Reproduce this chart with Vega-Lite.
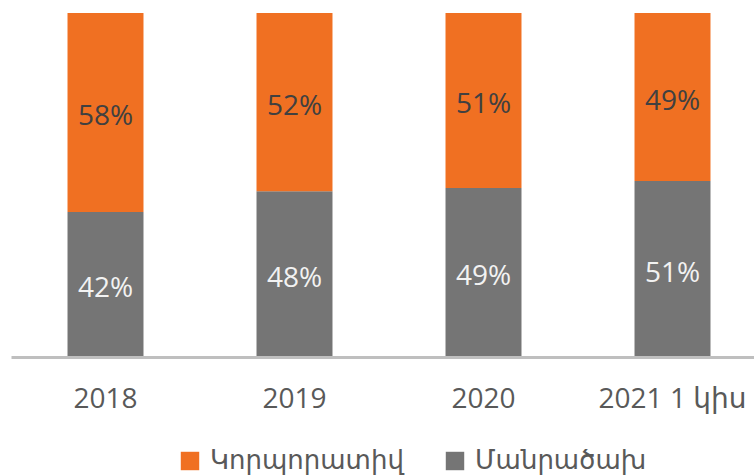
{
  "$schema": "https://vega.github.io/schema/vega-lite/v6.json",
  "width": 743,
  "height": 343,
  "autosize": "none",
  "padding": {"left": 11, "top": 13, "right": 0, "bottom": 119},
  "background": "#ffffff",
  "config": {"view": {"stroke": null}, "font": "Open Sans, DejaVu Sans"},
  "data": {"values": [
    {"year": "2018", "type": "Մանրածախ", "order": 1, "value": 0.42},
    {"year": "2018", "type": "Կորպորատիվ", "order": 2, "value": 0.58},
    {"year": "2019", "type": "Մանրածախ", "order": 1, "value": 0.48},
    {"year": "2019", "type": "Կորպորատիվ", "order": 2, "value": 0.52},
    {"year": "2020", "type": "Մանրածախ", "order": 1, "value": 0.49},
    {"year": "2020", "type": "Կորպորատիվ", "order": 2, "value": 0.51},
    {"year": "2021 1 կիս", "type": "Մանրածախ", "order": 1, "value": 0.51},
    {"year": "2021 1 կիս", "type": "Կորպորատիվ", "order": 2, "value": 0.49}
  ]},
  "encoding": {
    "x": {
      "field": "year", "type": "nominal", "sort": null,
      "scale": {"paddingInner": 0.598, "paddingOuter": 0.299, "range": [0, 756]},
      "axis": {"title": null, "labelAngle": 0, "ticks": false, "labelFontSize": 28, "labelColor": "#595959", "labelFont": "Open Sans, DejaVu Sans", "labelPadding": 28, "domainColor": "#BFBFBF", "domainWidth": 3, "offset": 1}
    },
    "y": {"field": "value", "type": "quantitative", "stack": "normalize", "axis": null, "scale": {"domain": [0, 1]}},
    "order": {"field": "order", "type": "quantitative"}
  },
  "layer": [
    {
      "mark": {"type": "bar"},
      "encoding": {
        "color": {
          "field": "type", "type": "nominal",
          "scale": {"domain": ["Կորպորատիվ", "Մանրածախ"], "range": ["#F07022", "#757575"]},
          "legend": {
            "title": null, "orient": "none", "direction": "horizontal",
            "legendX": 166, "legendY": 435,
            "symbolType": "square", "symbolSize": 340, "symbolStrokeWidth": 0,
            "labelFontSize": 26, "labelColor": "#595959", "labelFont": "DejaVu Sans", "labelLimit": 500,
            "labelOffset": 7, "columnPadding": 38
          }
        }
      }
    },
    {
      "mark": {"type": "text", "fontSize": 28, "font": "Open Sans", "dy": 5},
      "encoding": {
        "y": {"field": "value", "type": "quantitative", "stack": "normalize", "bandPosition": 0.5},
        "text": {"field": "value", "type": "quantitative", "format": ".0%"},
        "color": {
          "condition": {"test": "datum.type === 'Մանրածախ'", "value": "#F2F2F2"},
          "value": "#404040"
        }
      }
    }
  ]
}
